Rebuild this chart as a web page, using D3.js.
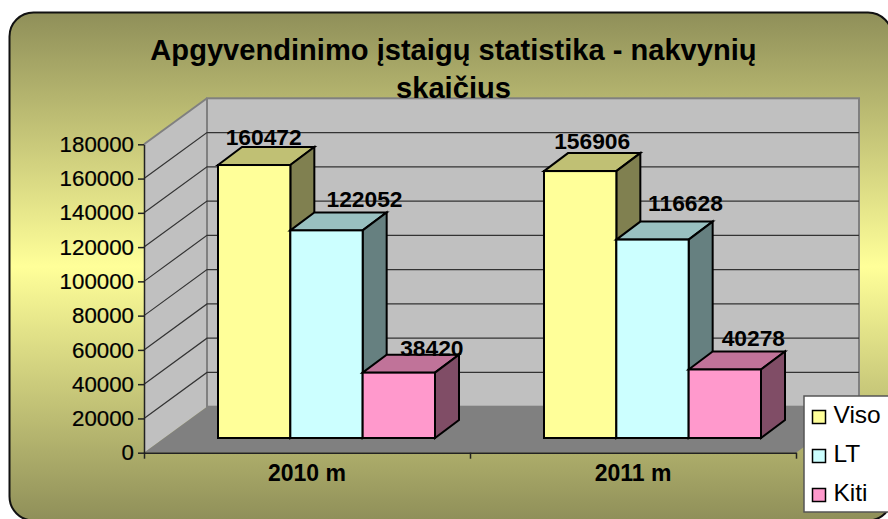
<!DOCTYPE html>
<html>
<head>
<meta charset="utf-8">
<script src="https://cdn.jsdelivr.net/npm/d3@7"></script>
<style>
html, body { margin: 0; padding: 0; background: #fff; overflow: hidden; }
text { font-family: "Liberation Sans", Arial, sans-serif; fill: #000; }
</style>
</head>
<body>
<div id="container"></div>
<script>
const categories = ["2010 m", "2011 m"];
const seriesNames = ["Viso", "LT", "Kiti"];
const visoValues = [160472, 156906];
const ltValues = [122052, 116628];
const kitiValues = [38420, 40278];
const yTicks = [0, 20000, 40000, 60000, 80000, 100000, 120000, 140000, 160000, 180000];
const titleLines = ["Apgyvendinimo įstaigų statistika - nakvynių", "skaičius"];

const seriesValues = [visoValues, ltValues, kitiValues];
const frontColors = ["#ffff99", "#ccffff", "#ff99cc"];
const topColors = ["#c0c074", "#99c0c0", "#c07399"];
const sideColors = ["#808050", "#668080", "#804d66"];

// label nudges, excel puts these where it likes
const labelDx = [[9.5, 12], [38, 33], [33, 28.5]];
const labelDy = [[-20, -22], [-23, -29], [-17, -23]];

const width = 888, height = 519;

// plot box, depth is the shift from front plane to back wall
const x0 = 144, x1 = 796, depthX = 63, depthY = -46;
const barDepthX = 24, barDepthY = -18;

const y = d3.scaleLinear().domain([0, 180000]).range([452.7, 144.3]);
const yBar = d3.scaleLinear().domain([0, 180000]).range([438, 131.8]);
const xGroup = d3.scaleBand().domain(categories).range([x0, x1]);
const xBar = d3.scaleBand().domain(seriesNames).range([74, 291]);

const svg = d3.select("#container").append("svg")
    .attr("width", width)
    .attr("height", height)
    .style("display", "block");

const grad = svg.append("defs").append("linearGradient")
    .attr("id", "bg").attr("x1", 0).attr("y1", 0).attr("x2", 0).attr("y2", 1);
grad.append("stop").attr("offset", "0%").attr("stop-color", "#8f8f59");
grad.append("stop").attr("offset", "50%").attr("stop-color", "#ffff99");
grad.append("stop").attr("offset", "100%").attr("stop-color", "#8f8f59");

svg.append("rect")
    .attr("x", 9.5).attr("y", 12.5)
    .attr("width", 882.5).attr("height", 508)
    .attr("rx", 24).attr("ry", 24)
    .attr("fill", "url(#bg)")
    .attr("stroke", "#111")
    .attr("stroke-width", 2);

const line = d3.line();
const yTop = y(180000), yBase = y(0);

// walls and floor
const walls = svg.append("g");
walls.append("path")
    .attr("d", line([[x0, yBase], [x0 + depthX, yBase + depthY], [x0 + depthX, yTop + depthY], [x0, yTop]]) + "Z")
    .attr("fill", "#c0c0c0");
walls.append("rect")
    .attr("x", x0 + depthX).attr("y", yTop + depthY)
    .attr("width", x1 - x0).attr("height", yBase - yTop)
    .attr("fill", "#c0c0c0")
    .attr("stroke", "#808080").attr("stroke-width", 2);
walls.append("path")
    .attr("d", line([[x0, yBase], [x0 + depthX, yBase + depthY], [x1 + depthX, yBase + depthY], [x1, yBase]]) + "Z")
    .attr("fill", "#808080");
walls.append("line")
    .attr("x1", x0 + depthX).attr("x2", x0)
    .attr("y1", yTop + depthY).attr("y2", yTop)
    .attr("stroke", "#808080").attr("stroke-width", 2);

// gridlines
const grid = svg.append("g");
grid.selectAll("path")
    .data(yTicks.slice(1, -1))
    .enter()
    .append("path")
    .attr("d", d => line([[x0, y(d)], [x0 + depthX, y(d) + depthY], [x1 + depthX, y(d) + depthY]]))
    .attr("fill", "none")
    .attr("stroke", "#333")
    .attr("stroke-width", 1.2);
walls.append("line")
    .attr("x1", x0 + depthX).attr("x2", x0 + depthX)
    .attr("y1", yTop + depthY).attr("y2", yBase + depthY)
    .attr("stroke", "#808080").attr("stroke-width", 2);

// axes
const yAxis = d3.axisLeft(y).tickValues(yTicks).tickSize(6).tickSizeOuter(0).tickPadding(4).tickFormat(d3.format("d"));
const yG = svg.append("g").attr("transform", `translate(${x0},0)`).call(yAxis);
yG.selectAll("text").style("font-size", "22.3px").style("stroke", "#000").style("stroke-width", 0.2);
yG.selectAll("line, path").attr("stroke", "#222").attr("stroke-width", 1.5);

const xTicks = d3.scaleLinear().domain([0, 2]).range([x0, x1]);
const xTickG = svg.append("g").attr("transform", `translate(0,${yBase})`)
    .call(d3.axisBottom(xTicks).tickValues([0, 1, 2]).tickSize(6).tickSizeOuter(0).tickFormat(""));
xTickG.selectAll("line, path").attr("stroke", "#222").attr("stroke-width", 1.5);

const xLab = svg.append("g").attr("transform", `translate(0,${yBase})`)
    .call(d3.axisBottom(xGroup).tickSize(0).tickPadding(12));
xLab.select("path").remove();
xLab.selectAll("text").style("font-size", "23px").style("font-weight", "bold");

// bars, left to right so the neighbour covers the side face
const barRows = [];
categories.forEach((c, ci) => {
    seriesNames.forEach((s, si) => {
        barRows.push({ c, ci, si, value: seriesValues[si][ci] });
    });
});

const bars = svg.append("g").selectAll("g")
    .data(barRows)
    .enter()
    .append("g")
    .attr("stroke", "#000")
    .attr("stroke-width", 2)
    .attr("stroke-linejoin", "miter");

const barLeft = d => xGroup(d.c) + xBar(seriesNames[d.si]);
const barRight = d => barLeft(d) + xBar.bandwidth();

bars.append("path")
    .attr("d", d => line([[barLeft(d), yBar(d.value)], [barLeft(d) + barDepthX, yBar(d.value) + barDepthY],
        [barRight(d) + barDepthX, yBar(d.value) + barDepthY], [barRight(d), yBar(d.value)]]) + "Z")
    .attr("fill", d => topColors[d.si]);
bars.append("path")
    .attr("d", d => line([[barRight(d), yBar(d.value)], [barRight(d) + barDepthX, yBar(d.value) + barDepthY],
        [barRight(d) + barDepthX, yBar(0) + barDepthY], [barRight(d), yBar(0)]]) + "Z")
    .attr("fill", d => sideColors[d.si]);
bars.append("rect")
    .attr("x", barLeft)
    .attr("y", d => yBar(d.value))
    .attr("width", xBar.bandwidth())
    .attr("height", d => yBar(0) - yBar(d.value))
    .attr("fill", d => frontColors[d.si]);

svg.append("g").selectAll("text")
    .data(barRows)
    .enter()
    .append("text")
    .attr("x", d => barLeft(d) + xBar.bandwidth() / 2 + labelDx[d.si][d.ci])
    .attr("y", d => yBar(d.value) + labelDy[d.si][d.ci])
    .attr("text-anchor", "middle")
    .style("font-size", "22.8px")
    .style("font-weight", "bold")
    .text(d => d.value);

// title
svg.append("g").selectAll("text")
    .data(titleLines)
    .enter()
    .append("text")
    .attr("x", 453.5)
    .attr("y", (d, i) => 60 + i * 38)
    .attr("text-anchor", "middle")
    .style("font-size", "29.1px")
    .style("font-weight", "bold")
    .text(d => d);

// legend
const legend = svg.append("g");
legend.append("rect")
    .attr("x", 804).attr("y", 396)
    .attr("width", 90).attr("height", 116)
    .attr("fill", "#fff")
    .attr("stroke", "#555")
    .attr("stroke-width", 1.5);
const legendRow = legend.selectAll("g")
    .data(seriesNames)
    .enter()
    .append("g")
    .attr("transform", (d, i) => `translate(812.5,${410.5 + i * 39})`);
legendRow.append("rect")
    .attr("width", 13).attr("height", 13)
    .attr("fill", (d, i) => frontColors[i])
    .attr("stroke", "#000")
    .attr("stroke-width", 1.5);
legendRow.append("text")
    .attr("x", 21).attr("y", 12.5)
    .style("font-size", "24.5px")
    .text(d => d);
</script>
</body>
</html>
